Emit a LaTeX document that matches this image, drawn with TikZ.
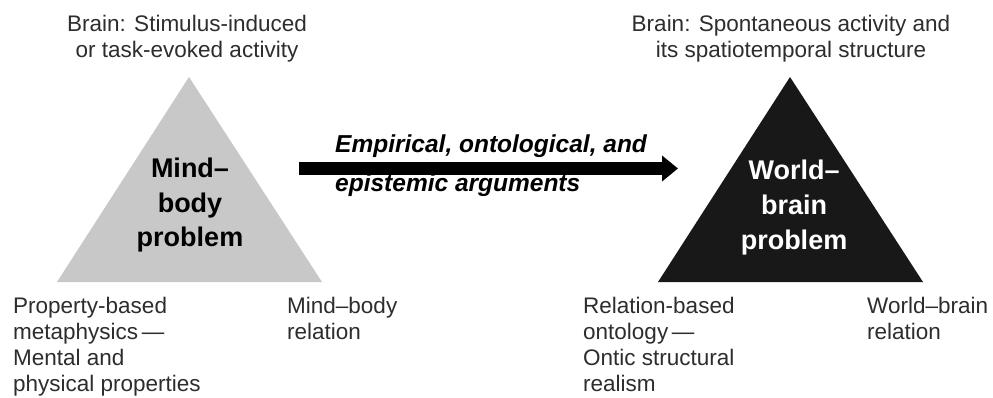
\documentclass[tikz,border=0pt]{standalone}
\usepackage{fontspec}
\setmainfont{Liberation Sans}
\usetikzlibrary{arrows.meta}
\definecolor{txtgray}{RGB}{45,45,45}
\definecolor{trigray}{RGB}{200,200,200}
\definecolor{tridark}{RGB}{24,24,24}
\begin{document}
\begin{tikzpicture}[x=1pt,y=-1pt,
  lbl/.style={font=\fontsize{22.5}{26}\selectfont, text=txtgray, inner sep=0pt},
  ttl/.style={font=\bfseries\fontsize{27}{35}\selectfont, inner sep=0pt, align=center, anchor=base},
  argtxt/.style={font=\bfseries\itshape\fontsize{24.5}{39}\selectfont, text=black, inner sep=0pt, align=left, anchor=base west},
  bigarrow/.style={line width=13pt, draw=black, -{Triangle[length=16pt,width=25pt]}}]
\useasboundingbox (0,0) rectangle (993,398);
\fill[white] (0,0) rectangle (993,398);
% triangles
\coordinate (lt) at (189,77);
\coordinate (ll) at (57,282);
\coordinate (lr) at (322,282);
\coordinate (rt) at (790,77);
\coordinate (rl) at (658,282);
\coordinate (rr) at (923,282);
\fill[trigray] (lt) -- (ll) -- (lr) -- cycle;
\fill[tridark] (rt) -- (rl) -- (rr) -- cycle;
% titles in triangles (base = last line)
\node[ttl, text=black] (mbp) at (190,247) {Mind–\\body\\problem};
\node[ttl, text=white] (wbp) at (794,249) {World–\\brain\\problem};
% top labels
\node[lbl, align=center, anchor=base] (stim) at (187,58) {Brain: Stimulus-induced\\or task-evoked activity};
\node[lbl, align=center, anchor=base] (spon) at (791,58) {Brain: Spontaneous activity and\\its spatiotemporal structure};
% bottom labels
\node[lbl, align=left, anchor=base west] (prop) at (13,391) {Property-based\\metaphysics\,—\\Mental and\\physical properties};
\node[lbl, align=left, anchor=base west] (mbr) at (287,339) {Mind–body\\relation};
\node[lbl, align=left, anchor=base west] (relb) at (583,391) {Relation-based\\ontology\,—\\Ontic structural\\realism};
\node[lbl, align=left, anchor=base west] (wbr) at (867,339) {World–brain\\relation};
% arrow
\coordinate (as) at (299,168.5);
\coordinate (ae) at (678,168.5);
\draw[bigarrow] (as) -- (ae);
\node[argtxt] (args) at (335,192) {Empirical, ontological, and\\epistemic arguments};
\end{tikzpicture}
\end{document}
